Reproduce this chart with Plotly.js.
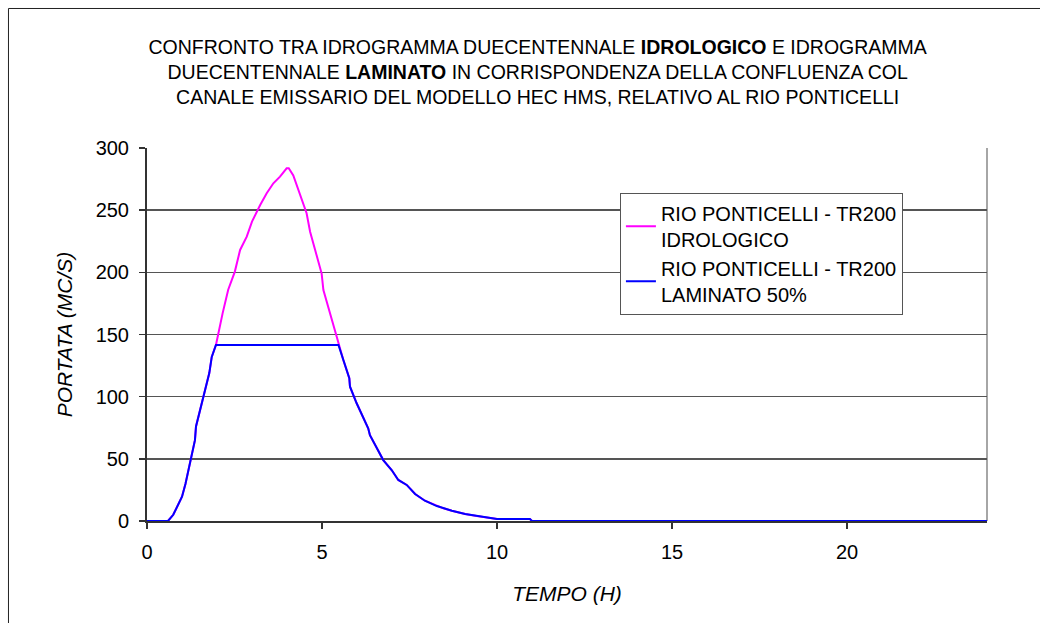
<!DOCTYPE html>
<html>
<head>
<meta charset="utf-8">
<script src="https://cdn.plot.ly/plotly-3.0.1.min.js"></script>
<style>html,body{margin:0;padding:0;background:#fff;}#chart{width:1040px;height:623px;}</style>
</head>
<body>
<div id="chart"></div>
<script>
// Tempo (h) e portata (mc/s) - idrogramma idrologico
const tempoIdro = [0, 0.6, 0.75, 1.0, 1.1, 1.23, 1.37, 1.4, 1.6, 1.78, 1.85, 1.97, 2.16, 2.28, 2.32, 2.51, 2.58, 2.66, 2.85, 3.0, 3.23, 3.42, 3.61, 3.8, 3.99, 4.05, 4.18, 4.28, 4.42, 4.56, 4.66, 4.8, 4.99, 5.04, 5.23, 5.37, 5.47, 5.61, 5.78, 5.8, 5.99, 6.32, 6.37, 6.75, 6.99, 7.18, 7.42, 7.66, 7.94, 8.28, 8.47, 8.71, 9.09, 9.42, 9.9, 10.0, 10.94, 11.0, 24];
const portataIdro = [0, 0, 5, 19.5, 30, 46, 65, 76, 100, 119, 132, 141.6, 167, 180, 186, 200.6, 210, 218, 228.7, 240.8, 254, 263.6, 271.6, 277, 283.7, 283.7, 278, 270, 259.6, 247.5, 232.7, 218, 199, 185.8, 167, 152, 141.6, 129.5, 114.8, 108, 94.7, 74.5, 69, 49, 41, 33, 29, 21.7, 16.3, 12, 10.2, 8.3, 5.6, 4, 2.2, 1.6, 1.6, 0, 0];
// Idrogramma laminato 50%
const tempoLam = [0, 0.6, 0.75, 1.0, 1.1, 1.23, 1.37, 1.4, 1.6, 1.78, 1.85, 1.97, 5.47, 5.61, 5.78, 5.8, 5.99, 6.32, 6.37, 6.75, 6.99, 7.18, 7.42, 7.66, 7.94, 8.28, 8.47, 8.71, 9.09, 9.42, 9.9, 10.0, 10.94, 11.0, 24];
const portataLam = [0, 0, 5, 19.5, 30, 46, 65, 76, 100, 119, 132, 141.6, 141.6, 129.5, 114.8, 108, 94.7, 74.5, 69, 49, 41, 33, 29, 21.7, 16.3, 12, 10.2, 8.3, 5.6, 4, 2.2, 1.6, 1.6, 0, 0];
const nomiSerie = ["RIO PONTICELLI - TR200<br>IDROLOGICO", "RIO PONTICELLI - TR200<br>LAMINATO 50%"];
const xTicks = [0, 5, 10, 15, 20];
const yTicks = [0, 50, 100, 150, 200, 250, 300];

const FONT = "Liberation Sans, Arial, sans-serif";
const traces = [
  {x: tempoIdro, y: portataIdro, name: nomiSerie[0], mode: "lines", line: {color: "#FF00FF", width: 2}, cliponaxis: false},
  {x: tempoLam, y: portataLam, name: nomiSerie[1], mode: "lines", line: {color: "#0000FF", width: 2}, cliponaxis: false}
];
const layout = {
  width: 1040, height: 623,
  margin: {l: 147, r: 53, t: 148, b: 102},
  paper_bgcolor: "#fff", plot_bgcolor: "#fff",
  font: {family: FONT, size: 20, color: "#000"},
  title: {
    text: "CONFRONTO TRA IDROGRAMMA DUECENTENNALE <b>IDROLOGICO</b> E IDROGRAMMA<br>DUECENTENNALE <b>LAMINATO</b> IN CORRISPONDENZA DELLA CONFLUENZA COL<br>CANALE EMISSARIO DEL MODELLO HEC HMS, RELATIVO AL RIO PONTICELLI",
    font: {family: FONT, size: 19.5, color: "#000"},
    xref: "container", x: 0.517, xanchor: "center",
    yref: "container", y: 0.914, yanchor: "middle"
  },
  xaxis: {
    range: [0, 24], tickvals: xTicks, ticktext: xTicks.map(String),
    tickfont: {family: FONT, size: 20},
    showgrid: false, zeroline: false,
    showline: true, linecolor: "#333", linewidth: 2,
    ticks: "outside", ticklen: 6, tickwidth: 1.5, tickcolor: "#333",
    ticklabelstandoff: 6,
    layer: "below traces",
    title: {text: "<i>TEMPO (H)</i>", font: {family: FONT, size: 21}, standoff: 24}
  },
  yaxis: {
    range: [0, 300], tickvals: yTicks, ticktext: yTicks.map(String),
    tickfont: {family: FONT, size: 20},
    showgrid: true, gridcolor: "#555", gridwidth: 1.5, zeroline: false,
    showline: true, linecolor: "#333", linewidth: 2,
    ticks: "outside", ticklen: 6, tickwidth: 1.5, tickcolor: "#333",
    ticklabelstandoff: 6,
    layer: "below traces",
    title: {text: "<i>PORTATA (MC/S)</i>", font: {family: FONT, size: 21}, standoff: 17}
  },
  legend: {
    x: 0.563, y: 0.88, xanchor: "left", yanchor: "top",
    bgcolor: "#fff", bordercolor: "#555", borderwidth: 1,
    font: {family: FONT, size: 20, color: "#000"},
    tracegroupgap: 10
  },
  showlegend: true,
  shapes: [
    {type: "line", xref: "paper", yref: "paper", x0: 1, x1: 1, y0: 0, y1: 1, line: {color: "#888", width: 1.5}, layer: "below"},
    {type: "rect", xref: "paper", yref: "paper", x0: -0.1649, x1: 1.08, y0: -0.3, y1: 1.374, line: {color: "#222", width: 1}, layer: "below"}
  ]
};
Plotly.newPlot("chart", traces, layout, {displayModeBar: false, staticPlot: true});
</script>
</body>
</html>
